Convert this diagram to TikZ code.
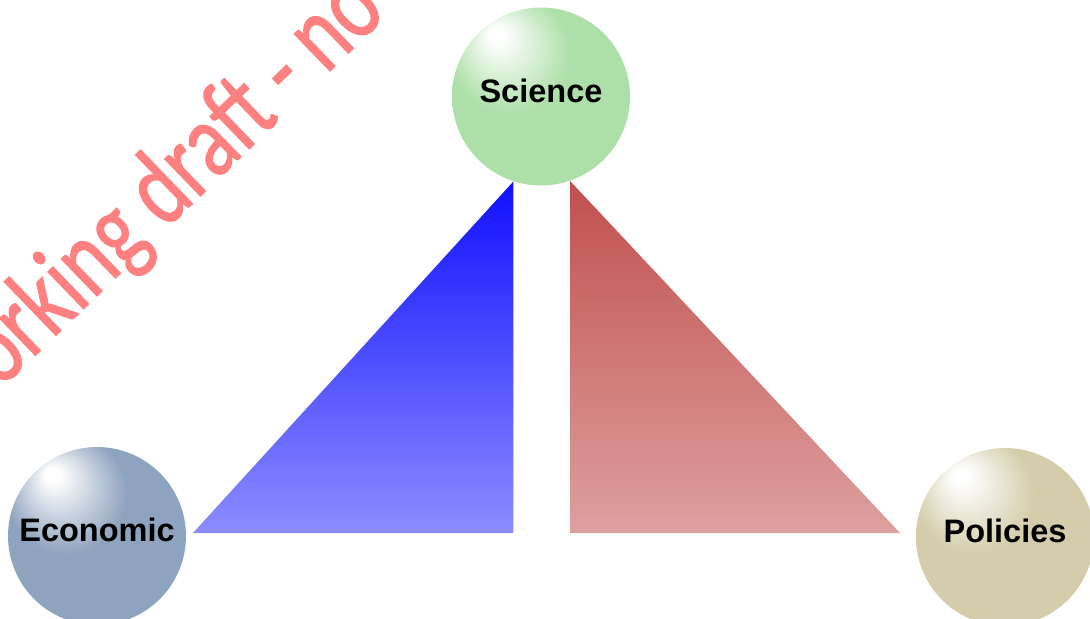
\documentclass[tikz,border=0pt]{standalone}
\usepackage{fontspec}
\setsansfont{Liberation Sans}
\newfontfamily\draftfont[FakeBold=1.3]{Carlito}
\usetikzlibrary{positioning}
\definecolor{sciencegreen}{RGB}{173,223,168}
\definecolor{econblue}{RGB}{142,163,190}
\definecolor{policytan}{RGB}{212,204,170}
\definecolor{bluetop}{RGB}{16,16,255}
\definecolor{bluebot}{RGB}{140,140,255}
\definecolor{redtop}{RGB}{192,80,77}
\definecolor{redbot}{RGB}{221,160,159}
\colorlet{ballcol}{white}
\pgfdeclareradialshading[ballcol]{glossy}{\pgfpoint{-13bp}{18bp}}{color(0bp)=(white); color(2bp)=(white); color(17bp)=(ballcol); color(50bp)=(ballcol)}

\begin{document}
\begin{tikzpicture}[x=0.02cm, y=-0.02cm,
  ball/.style  = {circle, minimum size=3.56cm, inner sep=0pt, shading=glossy,
                  /utils/exec={\colorlet{ballcol}{#1}},
                  font=\sffamily\bfseries\fontsize{18.5}{22}\selectfont, text depth=7pt},
  wedge/.style 2 args = {top color=#1, bottom color=#2},
  draft/.style = {font=\draftfont\fontsize{47}{51}\selectfont, text=red!50,
                  inner sep=0pt, anchor=base west}
]
\useasboundingbox (0,0) rectangle (1090,619);
\clip (0,0) rectangle (1090,619);

\node[ball=sciencegreen] (science) at (541,96.5) {Science};
\node[ball=econblue]     (econ)    at (97,536)   {Economic};
\node[ball=policytan]    (policy)  at (1005,537) {Policies};

\coordinate (bl) at (193,533);
\coordinate (br) at (900,533);

% the two wedges under Science
\path[wedge={bluetop}{bluebot}] (science.-108.7) |- (bl) -- cycle;
\path[wedge={redtop}{redbot}]   (science.-71.9)  |- (br) -- cycle;

% watermark
\node[draft, rotate=44, yscale=1.3] (mark) at (-42,430) {working draft - no};
\end{tikzpicture}
\end{document}
